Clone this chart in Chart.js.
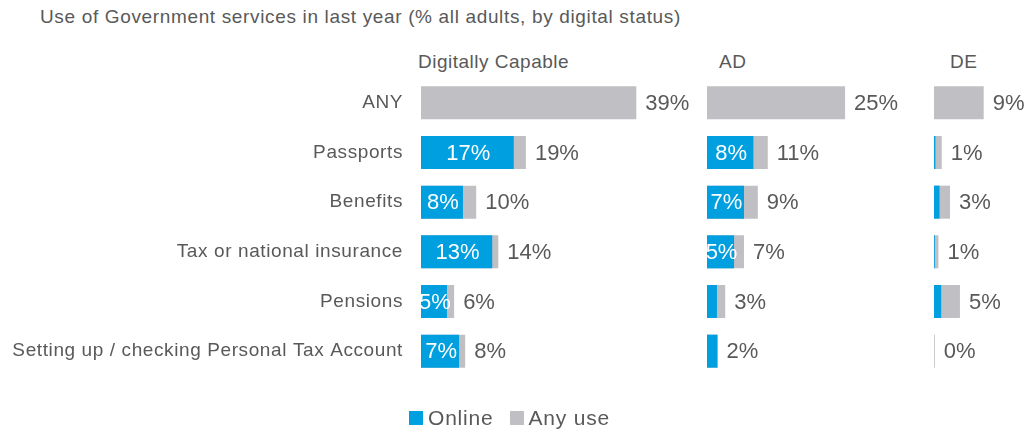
<!DOCTYPE html>
<html>
<head>
<meta charset="utf-8">
<script src="https://cdn.jsdelivr.net/npm/chart.js@4"></script>
<style>
  body { margin: 0; background: #fff; font-family: "Liberation Sans", Arial, sans-serif; color: #595959; }
  #page { position: relative; width: 1024px; height: 432px; overflow: hidden; }
  .abs { position: absolute; white-space: nowrap; }
  #title { left: 40px; top: 6px; font-size: 19px; letter-spacing: 0.65px; }
  .head { top: 51px; font-size: 19px; letter-spacing: 0.5px; }
  .panel { position: absolute; top: 0; height: 432px; }
  #legend { left: 409px; top: 406px; font-size: 21px; letter-spacing: 0.8px; display: flex; align-items: center; }
  #legend .sw { display: inline-block; width: 14px; height: 14px; margin-right: 5px; }
</style>
</head>
<body>
<div id="page">
  <div id="title" class="abs">Use of Government services in last year (% all adults, by digital status)</div>
  <div class="abs head" style="left:418px">Digitally Capable</div>
  <div class="abs head" style="left:719px">AD</div>
  <div class="abs head" style="left:950px">DE</div>
  <div class="panel" style="left:0"><canvas id="dc" width="707" height="432"></canvas></div>
  <div class="panel" style="left:707px"><canvas id="ad" width="227" height="432"></canvas></div>
  <div class="panel" style="left:934px"><canvas id="de" width="90" height="432"></canvas></div>
  <div id="legend" class="abs">
    <span class="sw" style="background:#009FDF"></span><span style="margin-right:16px">Online</span>
    <span class="sw" style="background:#C0C0C4"></span><span>Any use</span>
  </div>
</div>
<script>
const categories = ['ANY', 'Passports', 'Benefits', 'Tax or national insurance', 'Pensions', 'Setting up / checking Personal Tax Account'];

// Digitally Capable
const dcOnline = [0, 16.8, 7.6, 12.9, 4.7, 6.9];
const dcAny = [39, 19, 10, 14, 6, 8];
// AD
const adOnline = [0, 8.4, 6.7, 4.9, 1.8, 1.9];
const adAny = [25, 11, 9.2, 6.7, 3.3, 1.9];
// DE
const deOnline = [0, 0.25, 1.0, 0.15, 1.3, 0];
const deAny = [9, 1.4, 2.9, 0.8, 4.7, 0.15];

const BLUE = '#009FDF';
const GREY = '#C0C0C4';
const TEXT = '#595959';

// spaced-out category text like the original
const spacing = {
    id: 'spacing',
    beforeDraw(chart) { chart.ctx.letterSpacing = '0.6px'; },
    afterDraw(chart) { chart.ctx.letterSpacing = '0px'; }
};

// draws the % labels: grey total to the right, white online value inside
const valueLabels = {
    id: 'valueLabels',
    afterDatasetsDraw(chart) {
        const ctx = chart.ctx;
        ctx.save();
        ctx.letterSpacing = '0px';
        ctx.font = '22px "Liberation Sans", Arial, sans-serif';
        ctx.textBaseline = 'middle';
        const anyMeta = chart.getDatasetMeta(1);
        anyMeta.data.forEach((bar, i) => {
            const v = chart.data.datasets[1].data[i];
            ctx.fillStyle = TEXT;
            ctx.textAlign = 'left';
            ctx.fillText(Math.round(v) + '%', bar.x + 9, bar.y + 1);
        });
        const onMeta = chart.getDatasetMeta(0);
        onMeta.data.forEach((bar, i) => {
            const v = Math.round(chart.data.datasets[0].data[i]);
            if (v < 5) return;
            ctx.fillStyle = '#fff';
            ctx.textAlign = 'center';
            ctx.fillText(v + '%', (bar.base + bar.x) / 2 + 1, bar.y + 1);
        });
        ctx.restore();
    }
};

function makePanel(id, online, anyUse, max, showLabels) {
    return new Chart(document.getElementById(id), {
        type: 'bar',
        data: {
            labels: categories,
            datasets: [
                { label: 'Online', data: online, backgroundColor: BLUE, grouped: false,
                  categoryPercentage: 1, barPercentage: 0.665 },
                { label: 'Any use', data: anyUse, backgroundColor: GREY, grouped: false,
                  categoryPercentage: 1, barPercentage: 0.665 }
            ]
        },
        options: {
            indexAxis: 'y',
            responsive: false,
            animation: false,
            layout: { padding: { top: 78, bottom: 56, left: 0, right: 0 } },
            plugins: { legend: { display: false }, tooltip: { enabled: false } },
            scales: {
                x: { display: false, min: 0, max: max },
                y: {
                    display: showLabels,
                    grid: { display: false, drawTicks: false },
                    border: { display: false },
                    ticks: {
                        color: TEXT,
                        padding: 18,
                        font: { family: '"Liberation Sans", Arial, sans-serif', size: 19 }
                    },
                    afterFit: scale => { if (showLabels) scale.width = 421; }
                }
            }
        },
        plugins: [spacing, valueLabels]
    });
}

makePanel('dc', dcOnline, dcAny, 51.8, true);
makePanel('ad', adOnline, adAny, 41.1, false);
makePanel('de', deOnline, deAny, 16.3, false);
</script>
</body>
</html>
